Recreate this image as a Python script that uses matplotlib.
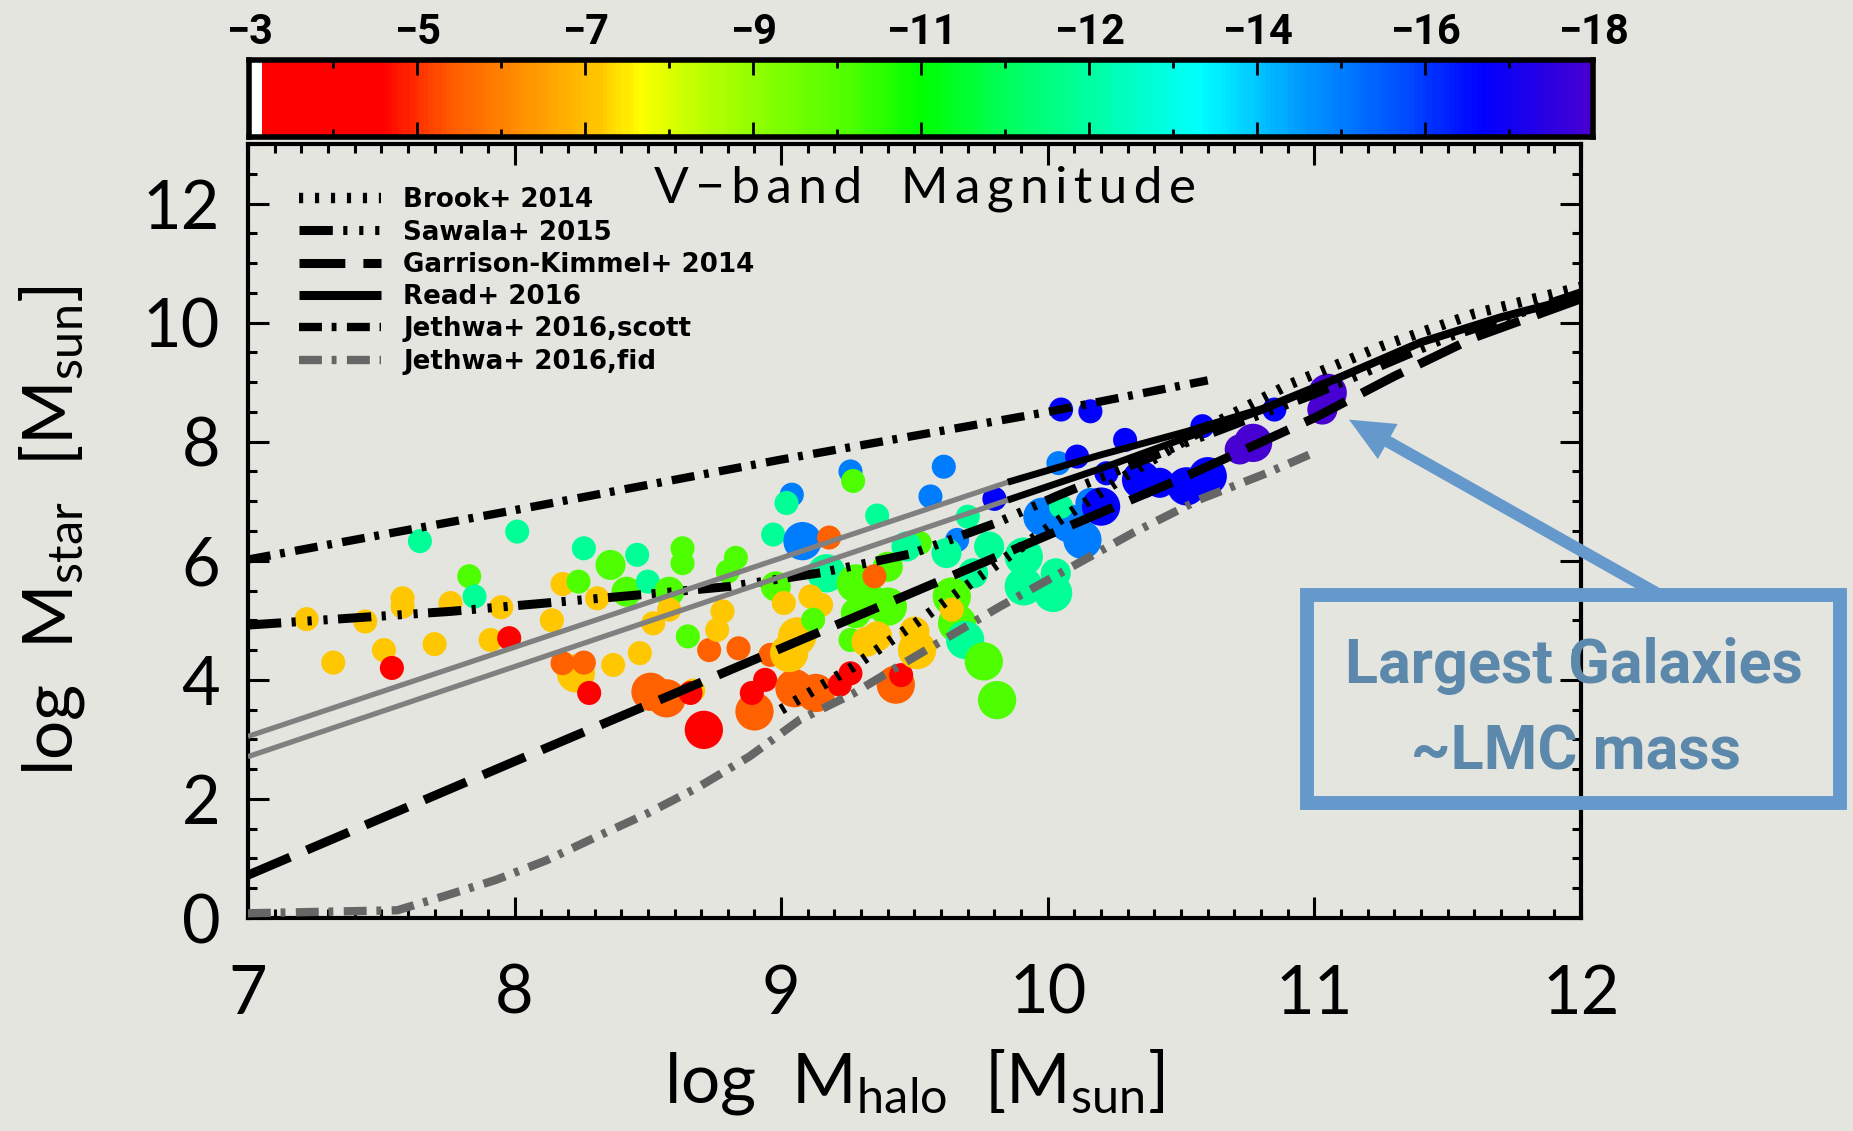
import numpy as np
import matplotlib
matplotlib.use('Agg')
import matplotlib.pyplot as plt
from matplotlib.colors import LinearSegmentedColormap
from matplotlib.patches import Rectangle
from matplotlib.ticker import MultipleLocator, FixedLocator, NullFormatter

# ---------------- data ----------------
# simulated dwarfs: halo mass, stellar mass, V-band magnitude, marker size class
log_mhalo = [7.645, 8.01, 7.83, 7.85, 7.22, 7.32, 7.44, 7.58, 7.58, 7.51,
             7.54, 7.70, 7.76, 7.95, 7.91, 7.98, 8.14, 8.18, 8.24, 8.26,
             8.36, 8.46, 8.31, 8.42, 8.50, 8.52, 8.47, 8.37, 8.23, 8.18,
             8.26, 8.28, 8.51, 8.57, 8.67, 8.66, 8.71, 8.90, 8.94, 8.89,
             9.05, 9.13, 9.26, 9.22, 9.43, 9.45, 8.73, 8.84, 8.96, 8.65,
             8.63, 8.63, 8.83, 8.80, 8.58, 8.58, 8.78, 8.76, 8.98, 9.17,
             9.01, 9.11, 9.15, 9.06, 9.03, 9.12, 8.97, 9.04, 9.02, 9.08,
             9.18, 9.26, 9.27, 9.61, 9.56, 9.36, 9.80, 9.66, 9.52, 9.47,
             9.62, 9.70, 9.78, 9.72, 9.91, 9.91, 10.02, 10.03, 9.28, 9.40,
             9.40, 9.32, 9.28, 9.26, 9.35, 9.36, 9.32, 9.50, 9.51, 9.64,
             9.66, 9.64, 9.69, 9.76, 9.81, 10.04, 9.98, 10.08, 10.13, 10.16,
             10.05, 10.20, 10.22, 10.35, 10.42, 10.52, 10.60, 10.05, 10.16, 10.29,
             10.11, 10.58, 10.85, 10.72, 10.77, 11.03, 11.05]
log_mstar = [6.33, 6.49, 5.74, 5.40, 5.02, 4.29, 4.98, 5.37, 5.23, 4.50,
             4.20, 4.60, 5.29, 5.22, 4.67, 4.70, 5.00, 5.61, 5.65, 6.21,
             5.93, 6.10, 5.37, 5.48, 5.65, 4.95, 4.45, 4.25, 4.11, 4.28,
             4.29, 3.78, 3.80, 3.69, 3.82, 3.78, 3.16, 3.47, 4.00, 3.78,
             3.86, 3.78, 4.11, 3.92, 3.92, 4.08, 4.50, 4.53, 4.42, 4.73,
             6.21, 5.96, 6.05, 5.82, 5.48, 5.18, 5.15, 4.84, 5.57, 5.79,
             5.29, 5.40, 5.26, 4.73, 4.45, 5.01, 6.44, 7.11, 6.97, 6.33,
             6.39, 7.50, 7.34, 7.58, 7.08, 6.76, 7.04, 6.35, 6.30, 6.24,
             6.13, 6.74, 6.24, 5.79, 6.07, 5.57, 5.46, 5.79, 5.62, 5.90,
             5.23, 5.34, 5.12, 4.67, 5.74, 4.73, 4.64, 4.81, 4.50, 5.40,
             4.95, 5.18, 4.67, 4.31, 3.66, 7.64, 6.74, 6.63, 6.35, 6.97,
             6.91, 6.91, 7.47, 7.36, 7.31, 7.25, 7.42, 8.54, 8.51, 8.03,
             7.75, 8.26, 8.54, 7.87, 7.98, 8.54, 8.82]
mag_v = [-12.2, -12.2, -9.7, -12.2, -6.9, -6.9, -6.9, -6.9, -6.9, -6.9,
         -4.0, -6.9, -6.9, -6.9, -6.9, -4.0, -6.9, -6.9, -9.7, -12.2,
         -9.7, -12.2, -6.9, -9.7, -12.2, -6.9, -6.9, -6.9, -6.9, -5.3,
         -5.3, -4.0, -5.3, -5.3, -6.9, -4.0, -4.0, -5.3, -4.0, -4.0,
         -5.3, -5.3, -4.0, -4.0, -5.3, -4.0, -5.3, -5.3, -5.3, -9.7,
         -9.7, -9.7, -9.7, -9.7, -9.7, -6.9, -6.9, -6.9, -9.7, -12.2,
         -6.9, -6.9, -6.9, -6.9, -6.9, -9.7, -12.2, -15.2, -12.2, -15.2,
         -5.3, -15.2, -9.7, -15.2, -15.2, -12.2, -16.8, -15.2, -9.7, -12.2,
         -12.2, -12.2, -12.2, -12.2, -12.2, -12.2, -12.2, -12.2, -9.7, -9.7,
         -9.7, -9.7, -9.7, -9.7, -5.3, -6.9, -6.9, -6.9, -6.9, -9.7,
         -9.7, -6.9, -12.2, -9.7, -9.7, -15.2, -15.2, -15.2, -15.2, -15.2,
         -12.2, -16.8, -16.8, -16.8, -16.8, -16.8, -16.8, -16.8, -16.8, -16.8,
         -16.8, -16.8, -16.8, -18.0, -18.0, -18.0, -18.0]
size_class = [1, 1, 1, 1, 1, 1, 1, 1, 1, 1,
              1, 1, 1, 1, 1, 1, 1, 1, 1, 1,
              2, 1, 1, 2, 1, 1, 1, 1, 3, 1,
              1, 1, 3, 3, 1, 1, 3, 3, 1, 1,
              3, 3, 1, 1, 3, 1, 1, 1, 1, 1,
              1, 1, 1, 1, 2, 1, 1, 1, 2, 3,
              1, 1, 1, 3, 3, 1, 1, 1, 1, 3,
              1, 1, 1, 1, 1, 1, 1, 1, 1, 2,
              2, 1, 2, 2, 3, 3, 3, 2, 3, 2,
              3, 3, 2, 1, 1, 2, 2, 2, 3, 3,
              3, 1, 3, 3, 3, 1, 3, 3, 3, 2,
              1, 3, 1, 3, 2, 3, 3, 1, 1, 1,
              1, 1, 1, 2, 3, 2, 3]

# abundance-matching / model relations
brook_x = [9.0, 9.27, 9.51, 9.78, 10.03, 10.3, 10.6, 10.9, 11.25, 11.6, 12.0]
brook_y = [3.5, 4.22, 4.97, 5.85, 6.64, 7.45, 8.25, 8.95, 9.6, 10.15, 10.6]
sawala_x = [7.0, 7.76, 8.5, 8.81, 9.15, 9.49, 9.81, 10.03, 10.5, 11.0, 11.5, 12.0]
sawala_y = [4.92, 5.15, 5.44, 5.57, 5.8, 6.12, 6.64, 7.08, 7.95, 8.8, 9.75, 10.5]
gk_x = [7.0, 8.0, 9.0, 10.0, 10.5, 11.0, 11.3, 11.6, 12.0]
gk_y = [0.72, 2.63, 4.53, 6.43, 7.38, 8.4, 9.1, 9.75, 10.4]
read_hi_x = [7.0, 9.85, 10.2, 10.52, 10.8, 11.1, 11.4, 11.7, 12.0]
read_hi_y = [3.05, 7.32, 7.78, 8.17, 8.55, 9.1, 9.68, 10.1, 10.45]
read_lo_x = [7.0, 9.85, 10.2, 10.52, 10.8, 11.1, 11.4, 11.7, 12.0]
read_lo_y = [2.71, 7.02, 7.55, 8.07, 8.52, 9.08, 9.66, 10.08, 10.43]
read_fit_limit = 9.85
scott_x = [7.0, 8.0, 9.0, 10.0, 10.6]
scott_y = [6.02, 6.85, 7.7, 8.5, 9.03]
fid_x = [7.0, 7.56, 7.73, 7.93, 8.12, 8.31, 8.5, 8.69, 8.88, 9.07, 9.27, 9.46,
         9.82, 10.07, 10.32, 10.57, 10.82, 10.98]
fid_y = [0.08, 0.13, 0.36, 0.64, 0.97, 1.37, 1.76, 2.2, 2.71, 3.33, 3.77, 4.28,
         5.23, 5.85, 6.47, 7.03, 7.47, 7.78]

legend_labels = ['Brook+ 2014', 'Sawala+ 2015', 'Garrison-Kimmel+ 2014',
                 'Read+ 2016', 'Jethwa+ 2016,scott', 'Jethwa+ 2016,fid']

mag_bright, mag_faint = -18.0, -3.0
cbar_ticks = [-3.0, -4.875, -6.75, -8.625, -10.5, -12.375, -14.25, -16.125, -18.0]
cbar_ticklabels = ['\u22123', '\u22125', '\u22127', '\u22129', '\u221211',
                   '\u221212', '\u221214', '\u221216', '\u221218']

# ---------------- style ----------------
plt.rcParams['lines.scale_dashes'] = False
plt.rcParams['font.family'] = ['Lato', 'DejaVu Sans']
plt.rcParams['mathtext.fontset'] = 'custom'
plt.rcParams['mathtext.rm'] = 'Lato'
plt.rcParams['mathtext.it'] = 'Lato'

BG = '#e5e5df'
BLUE_BOX = '#6599cb'
BLUE_TXT = '#5b88ab'
BOLD_NARROW = ['Roboto', 'DejaVu Sans']

# colour table, left (-3) to right (-18) of the colour bar
cmap = LinearSegmentedColormap.from_list('vmag', [
    (0.0, '#ffffff'), (0.006, '#ffffff'), (0.007, '#ff0000'), (0.096, '#ff0000'),
    (0.146, '#ff5a00'), (0.206, '#ff9600'), (0.26, '#ffc800'), (0.29, '#ffff00'),
    (0.325, '#c8ff00'), (0.39, '#82ff00'), (0.445, '#50ff00'), (0.5, '#00ff00'),
    (0.57, '#00ff64'), (0.625, '#00ffa0'), (0.71, '#00ffff'), (0.78, '#00a0ff'),
    (0.86, '#0050ff'), (0.92, '#0000ff'), (1.0, '#4600d2')])

def mag_to_frac(m):
    return (mag_faint - np.asarray(m)) / (mag_faint - mag_bright)

fig = plt.figure(figsize=(18.53, 11.31), dpi=100)
fig.patch.set_facecolor(BG)

ax = fig.add_axes([0.1338, 0.1883, 0.7194, 0.6844])
ax.set_facecolor(BG)

sizes = np.array([300, 470, 760])[np.array(size_class) - 1]
ax.scatter(log_mhalo, log_mstar, s=sizes, c=cmap(mag_to_frac(mag_v)),
           edgecolors='none', zorder=2)

caps = dict(solid_capstyle='butt', dash_capstyle='butt', zorder=3)
fid_ls = (0, (16.5, 7, 3.5, 7.5))
l_fid, = ax.plot(fid_x, fid_y, color='#666666', lw=6, ls=fid_ls, **caps)
l_gk, = ax.plot(gk_x, gk_y, color='k', lw=6.5, ls=(0, (33, 13)), **caps)
l_saw, = ax.plot(sawala_x, sawala_y, color='k', lw=6.5,
                 ls=(0, (24, 7.5, 3, 8.5, 3, 8.5, 3, 7.5)), **caps)
l_brook, = ax.plot(brook_x, brook_y, color='k', lw=7.5, ls=(0, (3, 8.5)), **caps)
for rx, ry in [(read_hi_x, read_hi_y), (read_lo_x, read_lo_y)]:
    rx = np.array(rx)
    ry = np.array(ry)
    lo = rx <= read_fit_limit
    hi = rx >= read_fit_limit
    ax.plot(rx[lo], ry[lo], color='#808080', lw=3.8, **caps)
    l_read, = ax.plot(rx[hi], ry[hi], color='k', lw=5, **caps)
l_scott, = ax.plot(scott_x, scott_y, color='k', lw=6, ls=fid_ls, **caps)

handles = [l_brook, l_saw, l_gk, l_read, l_scott, l_fid]
leg = ax.legend(handles, legend_labels, loc='upper left', bbox_to_anchor=(0.0383, 0.944),
                frameon=False, prop={'family': 'DejaVu Sans', 'weight': 'bold', 'size': 18.8},
                handlelength=3.15, handletextpad=0.85, labelspacing=0.24,
                borderpad=0, borderaxespad=0)
leg.get_lines()[3].set_linewidth(6.5)

ax.text(0.508, 0.942, '\u2009'.join('V\u2212band') + '\u2003' + '\u2009'.join('Magnitude'),
        transform=ax.transAxes, ha='center', va='center', fontsize=37, zorder=4)

ax.set_xlim(7, 12)
ax.set_ylim(0, 13)
ax.xaxis.set_major_locator(MultipleLocator(1))
ax.xaxis.set_minor_locator(MultipleLocator(0.1))
ax.yaxis.set_major_locator(FixedLocator([0, 2, 4, 6, 8, 10, 12]))
ax.yaxis.set_minor_locator(MultipleLocator(0.5))
ax.tick_params(which='both', direction='in', top=True, right=True, width=2.2, color='k')
ax.tick_params(which='major', length=15)
ax.tick_params(which='minor', length=6.5)
ax.tick_params(axis='x', which='major', pad=33, labelsize=48)
ax.tick_params(axis='y', which='major', pad=20, labelsize=48)
for sp in ax.spines.values():
    sp.set_linewidth(3)

ax.set_xlabel(r'log  M$_{\rm halo}$  [M$_{\rm sun}$]', fontsize=50)
ax.xaxis.set_label_coords(0.5, -0.238)
ax.xaxis.label.set_va('baseline')
ax.set_ylabel(r'log  M$_{\rm star}$  [M$_{\rm sun}$]', fontsize=50)
ax.yaxis.set_label_coords(-0.147, 0.5)
ax.yaxis.label.set_va('center')

# colour bar
cax = fig.add_axes([0.1344, 0.8789, 0.7253, 0.0681])
grad = np.linspace(0, 1, 300)[None, :]
cax.imshow(cmap(grad), aspect='auto', extent=[mag_faint, mag_bright, 0, 1],
           interpolation='nearest')
cax.set_xlim(mag_faint, mag_bright)
cax.set_ylim(0, 1)
cax.set_yticks([])
cax.xaxis.set_major_locator(FixedLocator(cbar_ticks))
mids = [(a + b) / 2 for a, b in zip(cbar_ticks[:-1], cbar_ticks[1:])]
cax.xaxis.set_minor_locator(FixedLocator(mids))
cax.xaxis.set_minor_formatter(NullFormatter())
cax.set_xticklabels(cbar_ticklabels, family=BOLD_NARROW, fontweight='bold', fontsize=30)
cax.tick_params(which='both', direction='in', top=True, bottom=True,
                labeltop=True, labelbottom=False, width=2, color='k')
cax.tick_params(which='major', length=11, pad=5)
cax.tick_params(which='minor', length=6)
for sp in cax.spines.values():
    sp.set_linewidth(4)

# annotation for the most massive dwarfs
fig.add_artist(Rectangle((0.7053, 0.2896), 0.2876, 0.1839, transform=fig.transFigure,
                         fill=False, lw=10, ec=BLUE_BOX, zorder=10))
fig.text(0.8494, 0.3961, 'Largest Galaxies', ha='center', va='baseline',
         family=BOLD_NARROW, fontweight='bold', fontsize=44, color=BLUE_TXT, zorder=11)
fig.text(0.8505, 0.3192, '~LMC mass', ha='center', va='baseline',
         family=BOLD_NARROW, fontweight='bold', fontsize=44, color=BLUE_TXT, zorder=11)
ax.annotate('', xy=(11.13, 8.37), xycoords='data',
            xytext=(0.8958, 0.4739), textcoords='figure fraction',
            arrowprops=dict(arrowstyle='simple,head_length=32,head_width=29,tail_width=8.6',
                            mutation_scale=1, fc=BLUE_BOX, ec='none',
                            shrinkA=0, shrinkB=0),
            annotation_clip=False, zorder=10)

fig.savefig('out.png', dpi=100, facecolor=BG)
